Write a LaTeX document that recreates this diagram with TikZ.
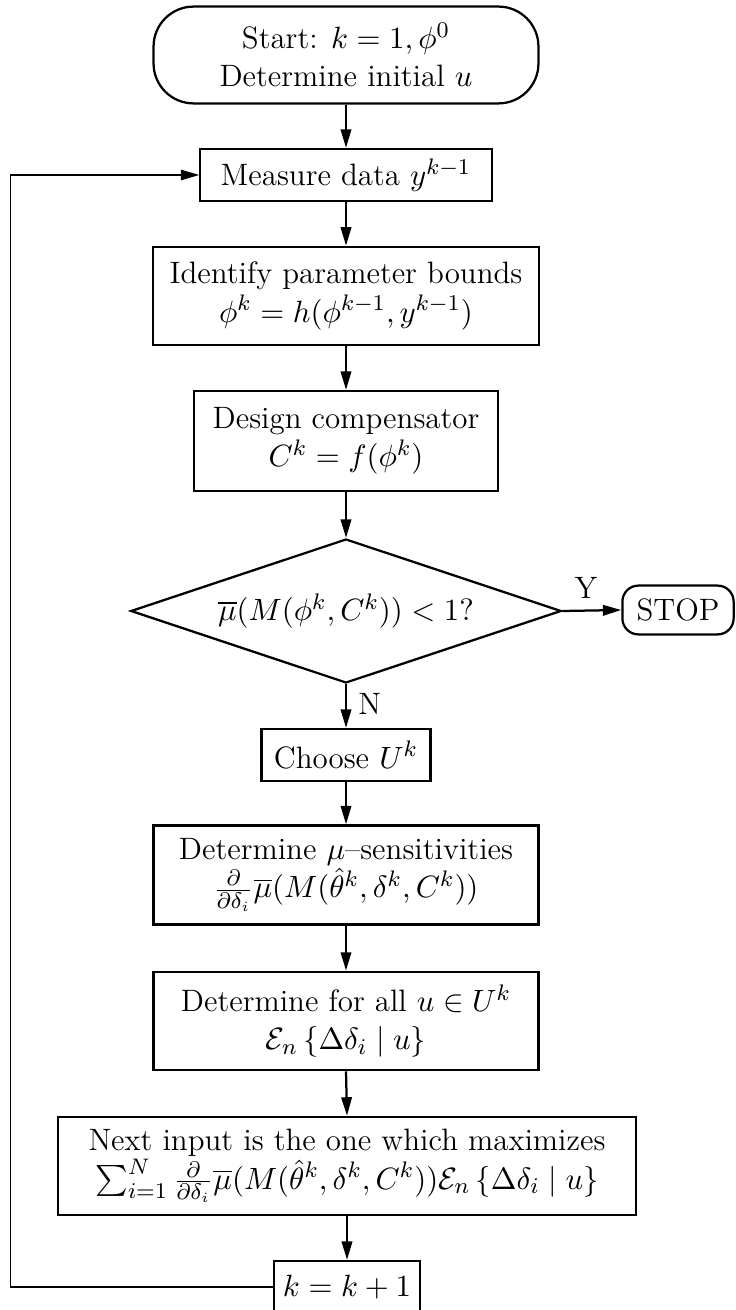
\documentclass[tikz,border=0pt]{standalone}
\usepackage{amsmath}
\usepackage{amssymb}
\usetikzlibrary{arrows.meta,shapes.geometric}

\begin{document}
\begin{tikzpicture}[
  x=0.0125cm,y=-0.0125cm,
  font=\fontsize{11pt}{13.6pt}\selectfont,
  >={Triangle[length=2.3mm,width=1.3mm]},
  box/.style={draw, align=center, inner sep=2pt, line width=0.8pt},
  term/.style={draw, rounded corners=#1, align=center, inner sep=2pt, line width=0.8pt},
  test/.style={draw, diamond, aspect=3, inner sep=0pt, line width=0.8pt},
  lab/.style={inner sep=1pt},
  flow/.style={->, line width=0.8pt},
  back/.style={->, line width=0.5pt},
]
\useasboundingbox (0,0) rectangle (735,1310);

%% ---------- START AND IDENTIFICATION ----------
\node[term=0.5cm, minimum width=4.81cm, minimum height=1.21cm] (start) at (346,55)
  {Start: $k=1,\phi^0$\\ Determine initial $u$};
\node[box, minimum width=3.64cm, minimum height=0.65cm] (measure) at (346,175)
  {Measure data $y^{k-1}$};
\node[box, minimum width=4.83cm, minimum height=1.23cm] (ident) at (346,296)
  {Identify parameter bounds\\ $\phi^k=h(\phi^{k-1},y^{k-1})$};
\node[box, minimum width=3.79cm, minimum height=1.25cm] (design) at (346,441)
  {Design compensator\\ $C^k=f(\phi^k)$};
\draw[flow] (start.south) -- (measure.north);
\draw[flow] (measure.south) -- (ident.north);
\draw[flow] (ident.south) -- (design.north);

%% ---------- STOPPING TEST ----------
\node[test, minimum width=5.38cm, minimum height=1.80cm] (check) at (346,611)
  {$\overline{\mu}(M(\phi^k,C^k))<1?$};
\node[term=0.2cm, minimum width=1.39cm, minimum height=0.61cm] (stop) at (678,610)
  {STOP};
\draw[flow] (design.south) -- (check.north);
\draw[flow] (check.east) -- (stop.west) node[pos=0.4,above=3pt,lab]{Y};

%% ---------- INPUT SELECTION ----------
\node[box, minimum width=2.11cm, minimum height=0.65cm] (choose) at (346,755)
  {Choose $U^k$};
\node[box, minimum width=4.81cm, minimum height=1.24cm] (sens) at (346,875)
  {Determine $\mu$--sensitivities\\
   $\frac{\partial}{\partial\delta_i}\overline{\mu}(M(\hat{\theta}^k,\delta^k,C^k))$};
\node[box, minimum width=4.81cm, minimum height=1.23cm] (expect) at (346,1021)
  {Determine for all $u\in U^k$\\
   $\mathcal{E}_n\left\{\Delta\delta_i \mid u\right\}$};
\node[box, minimum width=7.23cm, minimum height=1.23cm] (next) at (347,1166)
  {Next input is the one which maximizes\\
   $\sum_{i=1}^N\frac{\partial}{\partial\delta_i}\overline{\mu}(M(\hat{\theta}^k,\delta^k,C^k))\mathcal{E}_n\left\{\Delta\delta_i \mid u\right\}$};
\node[box, minimum width=1.83cm, minimum height=0.65cm] (incr) at (347,1287)
  {$k=k+1$};
\draw[flow] (check.south) -- (choose.north) node[pos=0.45,right=3pt,lab]{N};
\draw[flow] (choose.south) -- (sens.north);
\draw[flow] (sens.south) -- (expect.north);
\draw[flow] (expect.south) -- (next.north);
\draw[flow] (next.south) -- (incr.north);

%% ---------- LOOP BACK ----------
\coordinate (loopx) at (10.5,700);
\draw[back] (incr.west) -| (loopx) |- (measure.west);
\end{tikzpicture}
\end{document}
